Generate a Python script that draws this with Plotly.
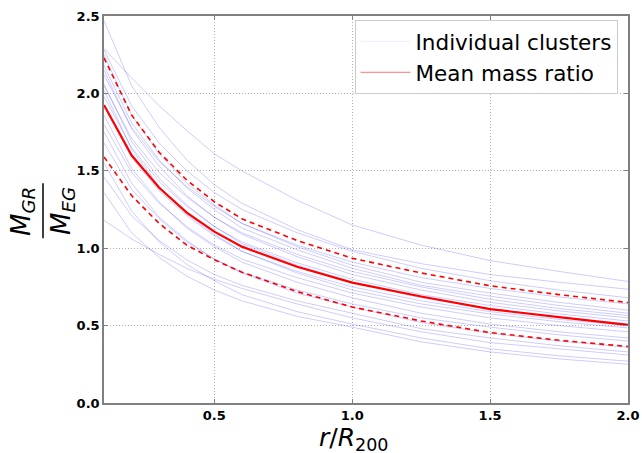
import plotly.graph_objects as go

# radial positions (r / R200)
r = [0.1, 0.2, 0.3, 0.4, 0.5, 0.6, 0.8, 1.0, 1.25, 1.5, 1.75, 2.0]

# individual cluster mass ratios M_GR / M_EG
c01 = [2.29, 2.10, 1.92, 1.76, 1.61, 1.50, 1.31, 1.15, 1.02, 0.92, 0.85, 0.785]
c02 = [2.47, 2.05, 1.78, 1.57, 1.41, 1.29, 1.12, 0.99, 0.90, 0.83, 0.78, 0.735]
c03 = [2.28, 1.92, 1.68, 1.50, 1.36, 1.25, 1.10, 0.98, 0.87, 0.79, 0.73, 0.68]
c04 = [2.12, 1.78, 1.56, 1.40, 1.27, 1.16, 1.02, 0.91, 0.81, 0.74, 0.685, 0.64]
c05 = [2.25, 1.86, 1.61, 1.42, 1.28, 1.16, 1.01, 0.89, 0.78, 0.71, 0.65, 0.60]
c06 = [2.18, 1.81, 1.57, 1.39, 1.25, 1.13, 0.99, 0.87, 0.76, 0.69, 0.63, 0.58]
c07 = [2.05, 1.71, 1.49, 1.33, 1.20, 1.10, 0.96, 0.85, 0.75, 0.67, 0.61, 0.565]
c08 = [2.15, 1.77, 1.53, 1.34, 1.20, 1.09, 0.945, 0.83, 0.73, 0.65, 0.595, 0.55]
c09 = [1.98, 1.65, 1.43, 1.27, 1.14, 1.04, 0.905, 0.80, 0.70, 0.63, 0.575, 0.53]
c10 = [2.06, 1.69, 1.45, 1.28, 1.14, 1.03, 0.89, 0.78, 0.68, 0.61, 0.555, 0.51]
c11 = [1.92, 1.585, 1.37, 1.21, 1.08, 0.98, 0.85, 0.75, 0.66, 0.59, 0.54, 0.50]
c12 = [2.02, 1.64, 1.40, 1.22, 1.09, 0.98, 0.84, 0.73, 0.64, 0.575, 0.525, 0.485]
c13 = [1.80, 1.49, 1.29, 1.14, 1.02, 0.93, 0.81, 0.71, 0.62, 0.55, 0.50, 0.46]
c14 = [1.86, 1.515, 1.30, 1.13, 1.01, 0.91, 0.78, 0.68, 0.58, 0.51, 0.46, 0.42]
c15 = [1.68, 1.38, 1.19, 1.04, 0.93, 0.845, 0.73, 0.64, 0.55, 0.49, 0.44, 0.40]
c16 = [1.75, 1.42, 1.20, 1.05, 0.93, 0.84, 0.71, 0.62, 0.52, 0.45, 0.40, 0.36]
c17 = [1.46, 1.21, 1.05, 0.925, 0.83, 0.76, 0.66, 0.58, 0.48, 0.42, 0.37, 0.33]
c18 = [1.18, 1.06, 0.96, 0.87, 0.80, 0.74, 0.64, 0.55, 0.46, 0.39, 0.35, 0.31]
c19 = [1.55, 1.24, 1.04, 0.895, 0.79, 0.70, 0.59, 0.51, 0.42, 0.35, 0.305, 0.27]
c20 = [1.36, 1.10, 0.94, 0.82, 0.73, 0.66, 0.56, 0.49, 0.395, 0.33, 0.285, 0.25]
clusters = [c01, c02, c03, c04, c05, c06, c07, c08, c09, c10,
            c11, c12, c13, c14, c15, c16, c17, c18, c19, c20]

# mean ratio and +/- one standard deviation
mean_ratio = [1.925, 1.60, 1.39, 1.23, 1.107, 1.01, 0.88, 0.778, 0.688, 0.606, 0.555, 0.505]
upper_ratio = [2.23, 1.86, 1.62, 1.44, 1.30, 1.19, 1.05, 0.935, 0.84, 0.757, 0.70, 0.649]
lower_ratio = [1.59, 1.34, 1.16, 1.02, 0.925, 0.845, 0.72, 0.62, 0.53, 0.455, 0.405, 0.365]

x_ticks = [0.5, 1.0, 1.5, 2.0]
y_ticks = [0.0, 0.5, 1.0, 1.5, 2.0, 2.5]

fig = go.Figure()
for c in clusters:
    fig.add_trace(go.Scatter(
        x=r, y=c, mode="lines",
        line=dict(color="rgba(0,0,255,0.2)", width=1),
        showlegend=False, hoverinfo="skip"))

fig.add_trace(go.Scatter(x=r, y=upper_ratio, mode="lines",
                         line=dict(color="red", width=1.6, dash="5px,4px"),
                         showlegend=False))
fig.add_trace(go.Scatter(x=r, y=lower_ratio, mode="lines",
                         line=dict(color="red", width=1.6, dash="5px,4px"),
                         showlegend=False))
fig.add_trace(go.Scatter(x=r, y=mean_ratio, mode="lines",
                         line=dict(color="red", width=2.2),
                         showlegend=False))

# legend-only entries (thin handles as in the reference legend)
fig.add_trace(go.Scatter(x=[None], y=[None], mode="lines",
                         line=dict(color="rgba(0,0,255,0.08)", width=1),
                         name="Individual clusters"))
fig.add_trace(go.Scatter(x=[None], y=[None], mode="lines",
                         line=dict(color="rgba(255,0,0,0.55)", width=1),
                         name="Mean mass ratio"))

axis_common = dict(
    showgrid=True, gridcolor="#b0b0b0", griddash="1px,2px", gridwidth=1,
    showline=True, linecolor="#808080", linewidth=1.5, mirror="ticks",
    ticks="inside", ticklen=4, tickcolor="#808080", tickwidth=1,
    zeroline=False, automargin=False,
    tickfont=dict(family="DejaVu Sans", size=13, color="black", weight="bold"),
)

fig.update_layout(
    width=642, height=453,
    margin=dict(l=104, r=14, t=16, b=50),
    paper_bgcolor="white", plot_bgcolor="white",
    font=dict(family="DejaVu Sans", color="black"),
    xaxis=dict(range=[0.1, 2.0], tickvals=x_ticks, tickformat=".1f",
               **axis_common),
    yaxis=dict(range=[0.0, 2.5], tickvals=y_ticks, tickformat=".1f",
               **axis_common),
    legend=dict(x=0.98, y=0.99, xanchor="right", yanchor="top",
                bgcolor="white", bordercolor="#cccccc", borderwidth=1,
                font=dict(family="DejaVu Sans", size=21.5, color="black"),
                itemwidth=50),
    showlegend=True,
)

# x-axis title
fig.add_annotation(text="<i>r</i>/<i>R</i><sub>200</sub>", xref="paper", yref="paper",
                   x=0.478, y=-0.093, xanchor="center", yanchor="middle",
                   showarrow=False,
                   font=dict(family="DejaVu Sans", size=25, color="black"))

# y-axis title drawn as a fraction M_GR / M_EG
fig.add_annotation(text="<i>M</i><sub><i>GR</i></sub>", xref="paper", yref="paper",
                   x=-0.1565, y=0.496, xanchor="center", yanchor="middle",
                   textangle=-90, showarrow=False,
                   font=dict(family="DejaVu Sans", size=26, color="black"))
fig.add_annotation(text="<i>M</i><sub><i>EG</i></sub>", xref="paper", yref="paper",
                   x=-0.0802, y=0.496, xanchor="center", yanchor="middle",
                   textangle=-90, showarrow=False,
                   font=dict(family="DejaVu Sans", size=26, color="black"))
fig.add_shape(type="line", xref="paper", yref="paper",
              x0=-0.1164, x1=-0.1164, y0=0.426, y1=0.568,
              line=dict(color="black", width=1.5))

fig.write_html("out.html")
